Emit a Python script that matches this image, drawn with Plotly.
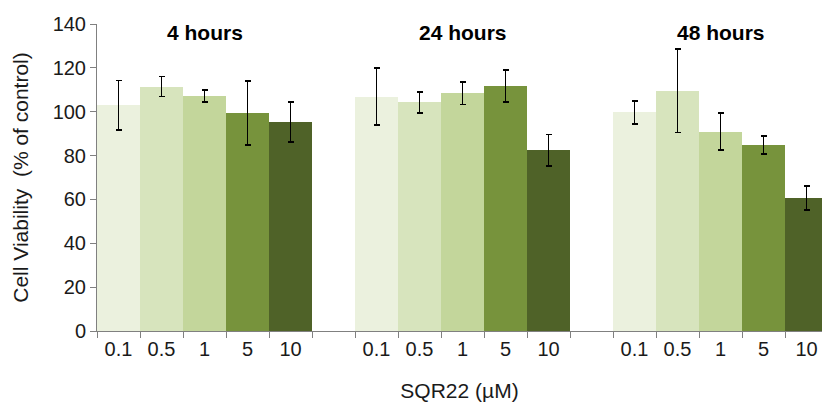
import plotly.graph_objects as go

groups = ["4 hours", "24 hours", "48 hours"]
doses = ["0.1", "0.5", "1", "5", "10"]
colors = ["#EBF1DE", "#D7E4BD", "#C3D69B", "#77933C", "#4F6228"]

# values[dose][group]
values = [
    [103.0, 106.8, 99.7],
    [111.5, 104.3, 109.5],
    [107.2, 108.5, 90.9],
    [99.4, 111.7, 84.8],
    [95.3, 82.5, 60.7],
]
errors = [
    [11.3, 13.0, 5.2],
    [4.5, 4.8, 19.0],
    [2.8, 5.2, 8.4],
    [14.7, 7.3, 4.2],
    [9.2, 7.1, 5.4],
]

slots = len(doses) + 1
fig = go.Figure()
for i, d in enumerate(doses):
    xs = [g * slots + i for g in range(len(groups))]
    fig.add_trace(go.Bar(
        x=xs, y=values[i], width=1,
        marker=dict(color=colors[i], line=dict(width=0)),
        error_y=dict(type="data", array=errors[i], color="black", thickness=1.7, width=3),
        name=d, showlegend=False,
    ))

tickvals = [g * slots + i for g in range(len(groups)) for i in range(len(doses))]
ticktext = [d for g in range(len(groups)) for d in doses]

font = "Liberation Sans, Arial, sans-serif"
for g, name in enumerate(groups):
    fig.add_annotation(
        x=g * slots + (len(doses) - 1) / 2, y=135.9, xref="x", yref="y",
        text="<b>%s</b>" % name, showarrow=False,
        font=dict(family=font, size=21, color="black"),
    )

fig.update_layout(
    width=822, height=403,
    margin=dict(l=97, r=0, t=24, b=72),
    paper_bgcolor="white", plot_bgcolor="white",
    bargap=0,
    font=dict(family=font, size=20, color="#1a1a1a"),
    xaxis=dict(
        range=[-0.5, 16.36], tickmode="array", tickvals=tickvals, ticktext=ticktext,
        ticks="", showgrid=False, zeroline=False, automargin=False,
        showline=True, linecolor="#808080", linewidth=1,
        minor=dict(tickmode="linear", tick0=-0.5, dtick=1, ticks="outside",
                   ticklen=6, tickcolor="#808080", showgrid=False),
        tickfont=dict(size=20),
        title=dict(text="SQR22 (µM)", font=dict(size=21), standoff=24),
    ),
    yaxis=dict(
        range=[0, 140], tickmode="linear", tick0=0, dtick=20,
        ticks="outside", ticklen=6, tickcolor="#808080",
        showgrid=False, zeroline=False, automargin=False,
        showline=True, linecolor="#808080", linewidth=1,
        tickfont=dict(size=20),
        title=dict(text="Cell Viability  (% of control)", font=dict(size=21), standoff=18),
    ),
)

fig.write_html("out.html", config={"displayModeBar": False},
               post_script="document.body.style.margin='0';document.body.style.overflow='hidden';")
